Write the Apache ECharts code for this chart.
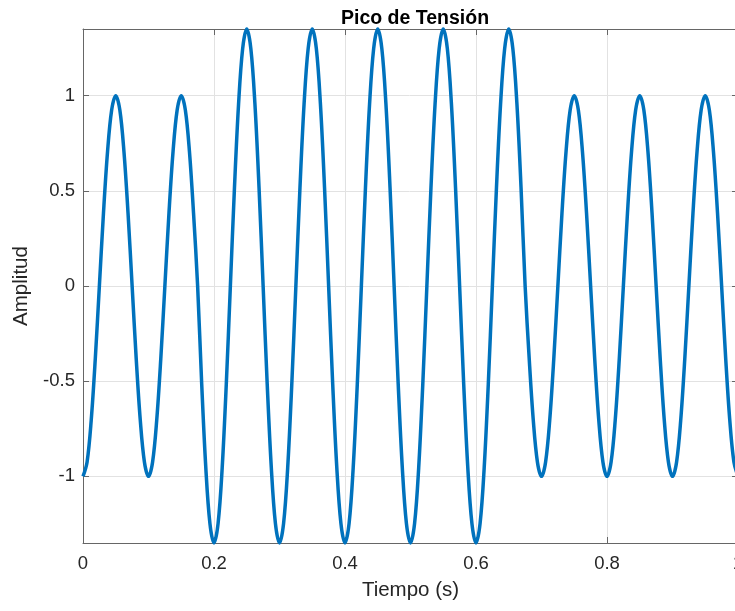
<!DOCTYPE html>
<html>
<head>
<meta charset="utf-8">
<title>Pico de Tensión</title>
<script src="https://cdn.jsdelivr.net/npm/echarts@6/dist/echarts.min.js"></script>
<style>
  html, body { margin: 0; padding: 0; background: #ffffff; }
  #chart { width: 735px; height: 611px; }
</style>
</head>
<body>
<div id="chart"></div>
<script>
// Sample period of the recorded signal (s)
const paso = 0.00625;

// Recorded amplitude, one row per 0.1 s cycle (16 samples each), plus the final sample.
// The swell raises the peak from 1 to 1.35 between 0.175 s and 0.675 s.
const amplitud = [
  -1, -0.924, -0.707, -0.383, 0, 0.383, 0.707, 0.924, 1, 0.924, 0.707, 0.383, 0, -0.383, -0.707, -0.924,
  -1, -0.924, -0.707, -0.383, 0, 0.383, 0.707, 0.924, 1, 0.924, 0.707, 0.383, 0, -0.517, -0.955, -1.247,
  -1.35, -1.247, -0.955, -0.517, 0, 0.517, 0.955, 1.247, 1.35, 1.247, 0.955, 0.517, 0, -0.517, -0.955, -1.247,
  -1.35, -1.247, -0.955, -0.517, 0, 0.517, 0.955, 1.247, 1.35, 1.247, 0.955, 0.517, 0, -0.517, -0.955, -1.247,
  -1.35, -1.247, -0.955, -0.517, 0, 0.517, 0.955, 1.247, 1.35, 1.247, 0.955, 0.517, 0, -0.517, -0.955, -1.247,
  -1.35, -1.247, -0.955, -0.517, 0, 0.517, 0.955, 1.247, 1.35, 1.247, 0.955, 0.517, 0, -0.517, -0.955, -1.247,
  -1.35, -1.247, -0.955, -0.517, 0, 0.517, 0.955, 1.247, 1.35, 1.247, 0.955, 0.517, 0, -0.383, -0.707, -0.924,
  -1, -0.924, -0.707, -0.383, 0, 0.383, 0.707, 0.924, 1, 0.924, 0.707, 0.383, 0, -0.383, -0.707, -0.924,
  -1, -0.924, -0.707, -0.383, 0, 0.383, 0.707, 0.924, 1, 0.924, 0.707, 0.383, 0, -0.383, -0.707, -0.924,
  -1, -0.924, -0.707, -0.383, 0, 0.383, 0.707, 0.924, 1, 0.924, 0.707, 0.383, 0, -0.383, -0.707, -0.924,
  -1
];

// Axis tick values
const ticksX = [0, 0.2, 0.4, 0.6, 0.8, 1];
const ticksY = [-1, -0.5, 0, 0.5, 1];

const puntos = amplitud.map((v, i) => [+(i * paso).toFixed(5), v]);

const fuente = '"Liberation Sans", Arial, Helvetica, sans-serif';
const colorEje = '#666666';
const colorTexto = '#262626';
const colorRejilla = '#e2e2e2';

const chart = echarts.init(document.getElementById('chart'), null, { renderer: 'canvas' });

chart.setOption({
  backgroundColor: '#ffffff',
  animation: false,
  title: {
    text: 'Pico de Tensión',
    left: 410,
    top: 4,
    textAlign: 'center',
    textStyle: { fontFamily: fuente, fontSize: 19.5, fontWeight: 'bold', color: '#000000' }
  },
  grid: { left: 83, top: 29, width: 655, height: 514, containLabel: false, outerBoundsMode: 'none' },
  xAxis: [
    {
      type: 'value',
      min: 0, max: 1, interval: 0.2,
      name: 'Tiempo (s)',
      nameLocation: 'middle',
      nameGap: 37,
      nameTextStyle: { fontFamily: fuente, fontSize: 20.5, color: colorTexto },
      axisLine: { show: true, onZero: false, lineStyle: { color: colorEje, width: 1 } },
      axisTick: { show: true, inside: true, length: 6, lineStyle: { color: colorEje } },
      axisLabel: { fontFamily: fuente, fontSize: 18.5, color: colorTexto, margin: 11, showMaxLabel: true },
      splitLine: { show: true, lineStyle: { color: colorRejilla, width: 1 } }
    },
    {
      type: 'value',
      position: 'top',
      min: 0, max: 1, interval: 0.2,
      axisLine: { show: true, onZero: false, lineStyle: { color: colorEje, width: 1 } },
      axisTick: { show: true, inside: true, length: 6, lineStyle: { color: colorEje } },
      axisLabel: { show: false },
      splitLine: { show: false }
    }
  ],
  yAxis: [
    {
      type: 'value',
      min: -1.35, max: 1.35,
      name: 'Amplitud',
      nameLocation: 'middle',
      nameGap: 48,
      nameTextStyle: { fontFamily: fuente, fontSize: 20.5, color: colorTexto },
      axisLine: { show: true, onZero: false, lineStyle: { color: colorEje, width: 1 } },
      axisTick: { show: true, inside: true, length: 6, customValues: ticksY, lineStyle: { color: colorEje } },
      axisLabel: { fontFamily: fuente, fontSize: 18.5, color: colorTexto, margin: 8, customValues: ticksY },
      splitLine: { show: true, lineStyle: { color: colorRejilla, width: 1 } }
    },
    {
      type: 'value',
      position: 'right',
      min: -1.35, max: 1.35,
      axisLine: { show: true, onZero: false, lineStyle: { color: colorEje, width: 1 } },
      axisTick: { show: true, inside: true, length: 6, customValues: ticksY, lineStyle: { color: colorEje } },
      axisLabel: { show: false, customValues: ticksY },
      splitLine: { show: false }
    }
  ],
  series: [
    {
      type: 'line',
      data: puntos,
      xAxisIndex: 0,
      yAxisIndex: 0,
      showSymbol: false,
      smooth: 0.35,
      clip: false,
      lineStyle: { color: '#0072BD', width: 3.5 },
      z: 3
    }
  ]
});
</script>
</body>
</html>
